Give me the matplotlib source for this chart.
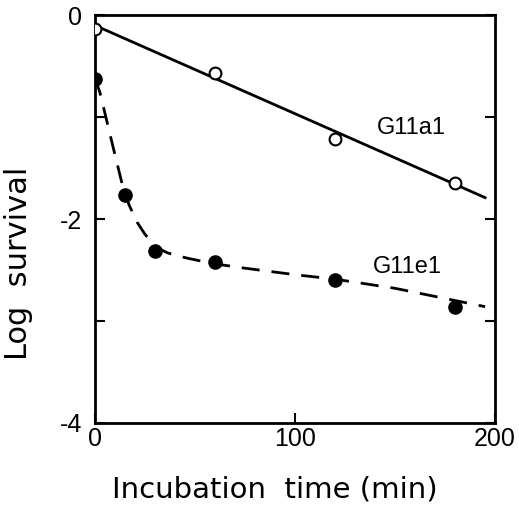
import numpy as np
import matplotlib.pyplot as plt

plt.rcParams['font.family'] = ['Liberation Sans', 'DejaVu Sans']

# measured points
time_a = [0, 60, 120, 180]
surv_a = [-0.14, -0.57, -1.21, -1.65]
time_e = [0, 15, 30, 60, 120, 180]
surv_e = [-0.63, -1.76, -2.31, -2.42, -2.6, -2.86]

# fitted curves as drawn on the original figure
fit_a_x = [0, 195]
fit_a_y = [-0.1, -1.79]
fit_e_x = [0, 2.5, 9, 13.5, 17, 21, 25, 28.5, 32, 36, 41, 47.5, 60, 74, 101.5, 120, 150, 180, 195]
fit_e_y = [-0.62, -0.76, -1.29, -1.65, -1.86, -2.03, -2.15, -2.23, -2.29, -2.33, -2.36, -2.39, -2.44,
           -2.48, -2.55, -2.59, -2.68, -2.80, -2.86]

fig = plt.figure(figsize=(5.19, 5.07), dpi=100)
ax = fig.add_axes([0.183, 0.166, 0.771, 0.804])

ax.plot(fit_a_x, fit_a_y, color='black', lw=2, zorder=2)
ax.plot(fit_e_x, fit_e_y, color='black', lw=2, dashes=(6.5, 4.3), zorder=2)
ax.plot(time_a, surv_a, 'o', ms=8.5, mfc='white', mec='black', mew=1.5, zorder=3)
ax.plot(time_e, surv_e, 'o', ms=9.5, mfc='black', mec='black', zorder=3)

ax.text(158, -1.11, 'G11a1', fontsize=17, ha='center', va='center')
ax.text(156, -2.47, 'G11e1', fontsize=17, ha='center', va='center')

ax.set_xlim(0, 200)
ax.set_ylim(-4, 0)
ax.set_xticks([0, 100, 200])
ax.set_xticklabels(['0', '100', '200'])
ax.set_yticks([0, -1, -2, -3, -4])
ax.set_yticklabels(['0', '', '-2', '', '-4'])
ax.tick_params(direction='in', length=7, width=1.5, labelsize=18, pad=9,
               right=True, top=False)
ax.tick_params(axis='x', pad=3)
for s in ax.spines.values():
    s.set_linewidth(2)

ax.set_xlabel('Incubation  time (min)', fontsize=21, family='DejaVu Sans')
ax.set_ylabel('Log  survival', fontsize=22, family='DejaVu Sans')
ax.xaxis.set_label_coords(0.45, -0.164)
ax.yaxis.set_label_coords(-0.19, 0.392)
ax.xaxis.label.set_va('center')
ax.yaxis.label.set_va('center')

fig.savefig('out.png', dpi=100)
